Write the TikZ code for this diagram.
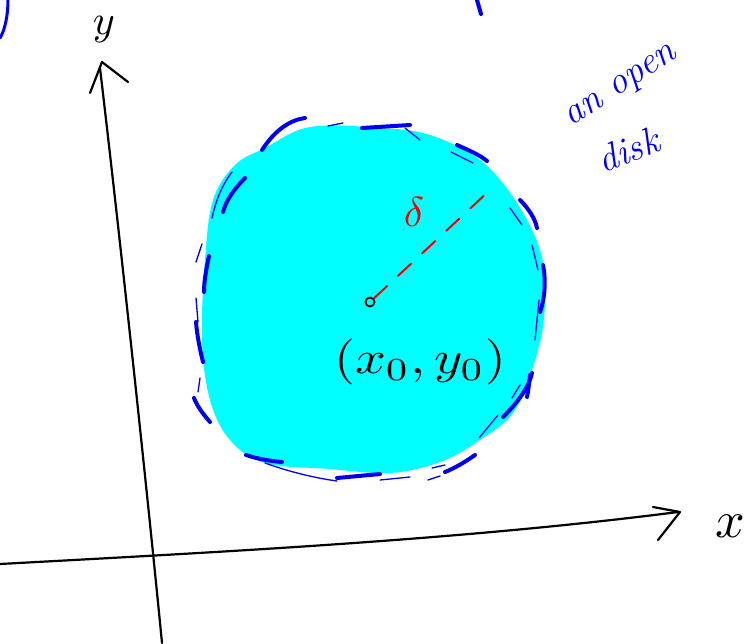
\documentclass[tikz,border=0pt]{standalone}
\usepackage{fontspec}
\usepackage{xcolor}
\definecolor{diskfill}{RGB}{0,255,255}
\definecolor{penblue}{RGB}{0,0,240}
\definecolor{penred}{RGB}{240,0,0}
\begin{document}
\begin{tikzpicture}[x=1pt,y=-1pt,
  axis/.style={line width=2.2pt,line cap=round,line join=round,black},
  thickdash/.style={line width=4pt,line cap=round,penblue},
  thindash/.style={line width=1.3pt,line cap=round,penblue},
  handlabel/.style={inner sep=0pt},
  reddash/.style={line width=2pt,penred,line cap=round,dash pattern=on 18pt off 15pt}]
\useasboundingbox (0,0) rectangle (754,643);
% disk
\fill[diskfill] plot[smooth cycle,tension=0.6] coordinates {
 (310,127) (380,128) (430,135) (480,160) (515,200) (540,250) (545,300)
 (538,350) (515,410) (480,440) (440,462) (390,473) (330,469) (265,463)
 (230,440) (210,400) (202,340) (205,260) (213,200) (235,165) (265,148)};
% boundary dashes (thick)
\draw[thickdash] (262,150) .. controls (275,130) and (290,120) .. (305,118);
\draw[thickdash] (245,178) .. controls (235,188) and (226,200) .. (223,212);
\draw[thickdash] (362,128) -- (410,125);
\draw[thickdash] (457,145) .. controls (468,150) and (480,155) .. (487,161);
\draw[thickdash] (520,200) .. controls (528,208) and (535,218) .. (537,228);
\draw[thickdash] (543,265) .. controls (546,280) and (545,298) .. (540,312);
\draw[thickdash] (530,375) .. controls (529,385) and (528,392) .. (527,397);
\draw[thickdash] (532,373) .. controls (528,390) and (515,405) .. (503,417);
\draw[thickdash] (475,455) .. controls (465,462) and (455,468) .. (445,472);
\draw[thickdash] (380,474) -- (337,478);
\draw[thickdash] (282,462) .. controls (270,461) and (258,459) .. (246,455);
\draw[thickdash] (210,422) .. controls (203,414) and (197,406) .. (194,398);
\draw[thickdash] (203,362) .. controls (200,350) and (197,335) .. (196,322);
\draw[thickdash] (209,256) .. controls (206,270) and (204,282) .. (204,292);
% boundary dashes (thin)
\draw[thindash] (232,172) .. controls (222,185) and (216,200) .. (212,218);
\draw[thindash] (202,244) -- (196,262);
\draw[thindash] (196,298) -- (198,322);
\draw[thindash] (200,378) -- (198,392);
\draw[thindash] (265,463) .. controls (290,472) and (315,478) .. (337,481);
\draw[thindash] (328,126) -- (343,123);
\draw[thindash] (405,128) -- (420,140);
\draw[thindash] (451,152) -- (473,163);
\draw[thindash] (510,208) -- (522,225);
\draw[thindash] (532,245) -- (538,270);
\draw[thindash] (539,300) -- (535,340);
\draw[thindash] (520,385) -- (512,398);
\draw[thindash] (498,415) -- (479,438);
\draw[thindash] (432,468) -- (445,465);
\draw[thindash] (428,480) -- (440,476);
\draw[thindash] (380,480) -- (410,477);
% axes
\draw[axis] (162,643) .. controls (152,540) and (125,280) .. (100,68);
\coordinate (ytip) at (102,62);
\draw[axis] (90,93) -- (ytip) -- (128,82);
\draw[axis] (0,564) .. controls (220,552) and (460,540) .. (678,512);
\coordinate (xtip) at (680,512);
\draw[axis] (653,507) -- (xtip) -- (658,540);
\node[handlabel,scale=4.2] (ylab) at (104,30) {$y$};
\node[handlabel,scale=5.2] (xlab) at (730,526) {$x$};
% top fragments
\draw[line width=3pt,penblue,line cap=round] (8,0) .. controls (8,15) and (5,30) .. (0,38);
\draw[line width=4pt,penblue,line cap=round] (477,0) -- (481,14);
% centre point and radius
\node[draw=black,circle,line width=1.8pt,minimum size=9pt,inner sep=0pt] (p) at (370,302) {};
\coordinate (r) at (490,190);
\draw[reddash] (p) -- (r);
\node[handlabel,text=penred,scale=4.2] (delta) at (414,212) {$\delta$};
\node[handlabel,xscale=5.4,yscale=4.6] (pt) at (420,362) {$(x_0,y_0)$};
% label
\node[handlabel,text=penblue,rotate=33] (an) at (622,88) {\fontsize{38}{38}\selectfont\itshape an open};
\node[handlabel,text=penblue,rotate=22] (disk) at (628,150) {\fontsize{38}{38}\selectfont\itshape disk};
\end{tikzpicture}
\end{document}
